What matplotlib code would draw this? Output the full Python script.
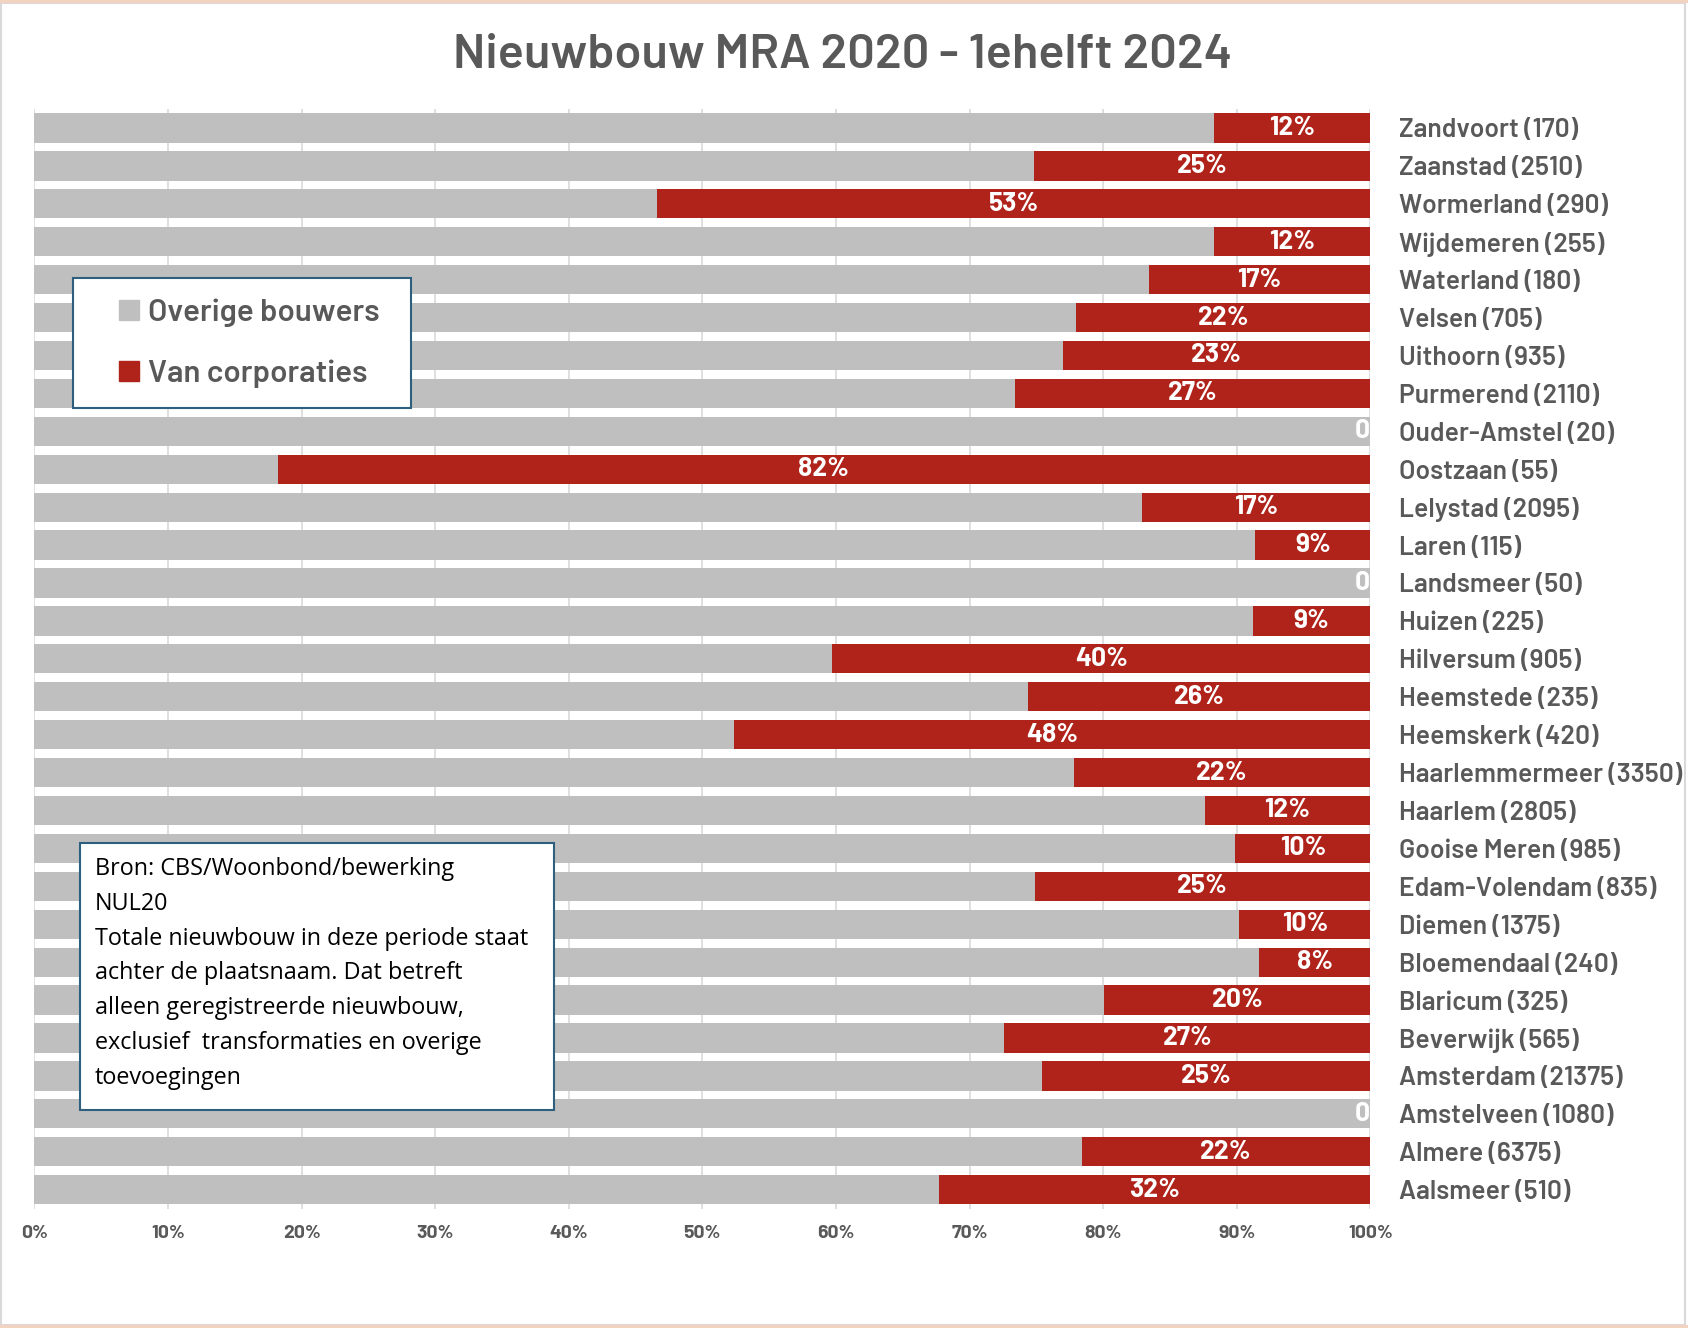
import numpy as np
import matplotlib
matplotlib.use('Agg')
import matplotlib.pyplot as plt
from matplotlib.patches import Rectangle
from matplotlib.lines import Line2D

# data, top to bottom as in the chart
places = ['Zandvoort', 'Zaanstad', 'Wormerland', 'Wijdemeren', 'Waterland',
          'Velsen', 'Uithoorn', 'Purmerend', 'Ouder-Amstel', 'Oostzaan',
          'Lelystad', 'Laren', 'Landsmeer', 'Huizen', 'Hilversum',
          'Heemstede', 'Heemskerk', 'Haarlemmermeer', 'Haarlem', 'Gooise Meren',
          'Edam-Volendam', 'Diemen', 'Bloemendaal', 'Blaricum', 'Beverwijk',
          'Amsterdam', 'Amstelveen', 'Almere', 'Aalsmeer']
totals = [170, 2510, 290, 255, 180, 705, 935, 2110, 20, 55,
          2095, 115, 50, 225, 905, 235, 420, 3350, 2805, 985,
          835, 1375, 240, 325, 565, 21375, 1080, 6375, 510]
corp_share = [11.7, 25.2, 53.4, 11.7, 16.6, 22.0, 23.0, 26.6, 0.0, 81.8,
              17.1, 8.6, 0.0, 8.8, 40.3, 25.6, 47.6, 22.2, 12.4, 10.1,
              25.1, 9.8, 8.3, 19.9, 27.4, 24.6, 0.0, 21.6, 32.3]
xticks = [0, 10, 20, 30, 40, 50, 60, 70, 80, 90, 100]

series_names = ['Overige bouwers', 'Van corporaties']
source_text = ('Bron: CBS/Woonbond/bewerking\n'
               'NUL20\n'
               'Totale nieuwbouw in deze periode staat\n'
               'achter de plaatsnaam. Dat betreft\n'
               'alleen geregistreerde nieuwbouw,\n'
               'exclusief  transformaties en overige\n'
               'toevoegingen')

GREY = '#BFBFBF'
RED = '#B0231A'
TXT = '#595959'
BLUE = '#2E5F7F'
NARROW = ['Barlow', 'Barlow Semi Condensed', 'DejaVu Sans']
PLAIN = ['Open Sans', 'DejaVu Sans']

W, H = 1688, 1328
fig = plt.figure(figsize=(W / 100, H / 100), dpi=100)
fig.patch.set_facecolor('white')

ax = fig.add_axes([0.0204, 0.0899, 0.8118 - 0.0204, 0.828])

corp = np.array(corp_share) / 100.0
other = 1.0 - corp
y = np.arange(len(places))

ax.barh(y, other, height=0.77, color=GREY, label=series_names[0], zorder=2)
ax.barh(y, corp, left=other, height=0.77, color=RED, label=series_names[1], zorder=2)

for yi, o, c in zip(y, other, corp):
    if c > 0:
        ax.text(o + c / 2, yi, '%d%%' % round(c * 100), ha='center', va='center',
                color='white', fontsize=19, fontweight='bold', family=NARROW, zorder=3)
    else:
        ax.text(1.0, yi, '0', ha='right', va='center', color='white',
                fontsize=19, fontweight='bold', family=NARROW, zorder=3)

ax.set_xlim(0, 1)
ax.set_ylim(len(places) - 0.5, -0.5)
ax.set_xticks(np.array(xticks) / 100.0)
ax.set_xticklabels(['%d%%' % t for t in xticks], color=TXT, fontsize=14,
                   fontweight='bold', family=NARROW)
ax.set_yticks(y)
ax.set_yticklabels(['%s (%d)' % (p, t) for p, t in zip(places, totals)],
                   color=TXT, fontsize=19, fontweight=600, family=NARROW)
ax.yaxis.tick_right()
ax.tick_params(axis='y', length=0, pad=21)
ax.tick_params(axis='x', length=0, pad=12)
for s in ax.spines.values():
    s.set_visible(False)
ax.grid(axis='x', color='#D9D9D9', lw=1.2, zorder=0)
ax.set_axisbelow(True)

handles = [Line2D([], [], ls='', marker='s', ms=14, color=GREY, mec=GREY),
           Line2D([], [], ls='', marker='s', ms=14, color=RED, mec=RED)]
leg = ax.legend(handles, series_names, loc='upper left', mode='expand',
                bbox_to_anchor=(0.0433, 0.6965, 0.2002, 0.0942),
                bbox_transform=fig.transFigure,
                borderaxespad=0, borderpad=0.65, handlelength=2.25, handletextpad=-0.5,
                labelspacing=1.05, fancybox=False, framealpha=1, edgecolor=BLUE,
                prop={'family': NARROW, 'size': 22.5, 'weight': 600})
leg.get_frame().set_linewidth(1.5)
for t in leg.get_texts():
    t.set_color(TXT)

# source note
box = Rectangle((79.7 / W, 1 - 1110 / H), (554.4 - 79.7) / W, (1110 - 843) / H,
                transform=fig.transFigure, facecolor='white', edgecolor=BLUE,
                lw=1.5, zorder=5)
fig.add_artist(box)
fig.text(94.7 / W, 1 - 857 / H, source_text, ha='left', va='top', fontsize=16.8,
         family=PLAIN, color='black', linespacing=1.6, zorder=6)

fig.text(0.4994, 0.9585, 'Nieuwbouw MRA 2020 - 1ehelft 2024', ha='center', va='center',
         fontsize=35, fontweight=600, color=TXT, family=NARROW)

# outer frame
fig.add_artist(Rectangle((0.0005, 0.002), 0.998, 0.996, transform=fig.transFigure,
                         fill=False, edgecolor='#D9D9D9', lw=1.5))
fig.add_artist(Line2D([0, 1], [0.999, 0.999], transform=fig.transFigure,
                      color='#F2D3C2', lw=3))
fig.add_artist(Line2D([0, 1], [0.001, 0.001], transform=fig.transFigure,
                      color='#F2D3C2', lw=3))

fig.savefig('out.png', dpi=100)
